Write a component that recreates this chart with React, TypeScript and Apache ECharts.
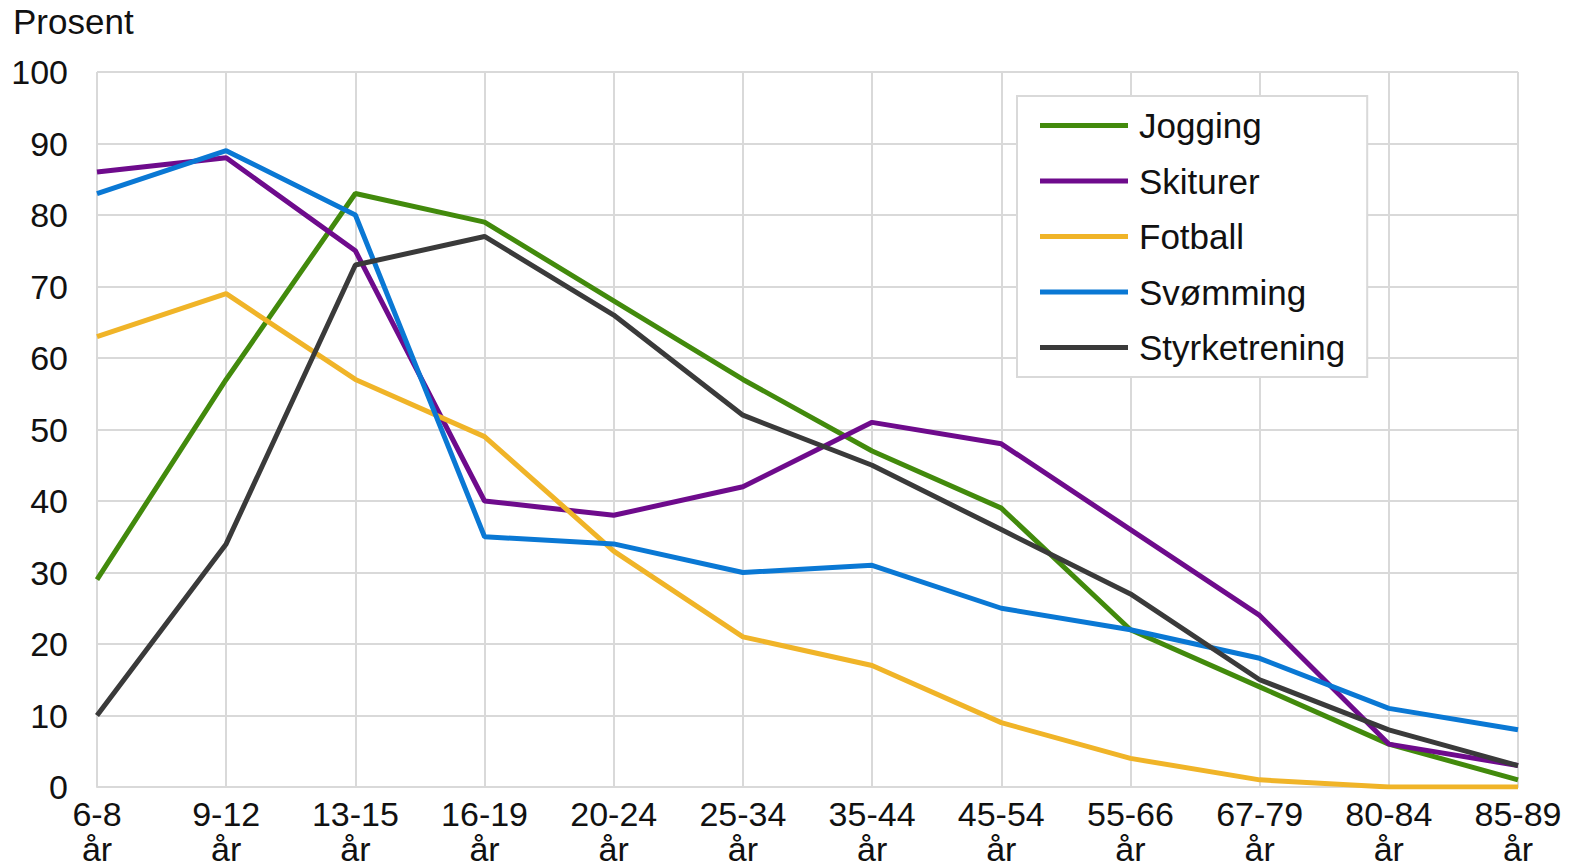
import React, { useEffect, useRef } from "react";
import * as echarts from "echarts";

const categories = ["6-8", "9-12", "13-15", "16-19", "20-24", "25-34", "35-44", "45-54", "55-66", "67-79", "80-84", "85-89"];
const jogging = [29, 57, 83, 79, 68, 57, 47, 39, 22, 14, 6, 1];
const skiturer = [86, 88, 75, 40, 38, 42, 51, 48, 36, 24, 6, 3];
const fotball = [63, 69, 57, 49, 33, 21, 17, 9, 4, 1, 0, 0];
const svomming = [83, 89, 80, 35, 34, 30, 31, 25, 22, 18, 11, 8];
const styrketrening = [10, 34, 73, 77, 66, 52, 45, 36, 27, 15, 8, 3];
const yTicks = { min: 0, max: 100, interval: 10 };

const seriesDefs = [
  { name: "Jogging", data: jogging, color: "#428a0c" },
  { name: "Skiturer", data: skiturer, color: "#6e0b8c" },
  { name: "Fotball", data: fotball, color: "#f0b428" },
  { name: "Svømming", data: svomming, color: "#0a78d4" },
  { name: "Styrketrening", data: styrketrening, color: "#3a3a3a" },
];

const FONT = "'Liberation Sans', Arial, sans-serif";

export default function App() {
  const ref = useRef<HTMLDivElement>(null);
  useEffect(() => {
    if (!ref.current) return;
    const chart = echarts.init(ref.current, undefined, { renderer: "svg" });
    chart.setOption({
      animation: false,
      textStyle: { fontFamily: FONT },
      title: {
        text: "Prosent",
        left: 13,
        top: 4,
        padding: 0,
        textStyle: { fontSize: 35, fontWeight: "normal", color: "#111", fontFamily: FONT, lineHeight: 34 },
      },
      grid: { left: 97, right: 59, top: 72, bottom: 80, containLabel: false, outerBoundsMode: "none" },
      legend: {
        orient: "vertical",
        left: 1017,
        top: 96,
        padding: [12, 22, 12, 23],
        itemGap: 20.5,
        itemWidth: 88,
        itemHeight: 5,
        icon: "rect",
        borderColor: "#d9d9d9",
        borderWidth: 2,
        backgroundColor: "#fff",
        textStyle: { fontSize: 35, color: "#111", fontFamily: FONT, lineHeight: 35, padding: [0, 0, 0, 6] },
        data: seriesDefs.map((s) => s.name),
      },
      xAxis: {
        type: "category",
        data: categories,
        boundaryGap: false,
        axisLine: { show: true, lineStyle: { color: "#d9d9d9", width: 2 } },
        axisTick: { show: false },
        splitLine: { show: true, lineStyle: { color: "#d9d9d9", width: 2 } },
        axisLabel: {
          interval: 0,
          margin: 9.5,
          fontSize: 34,
          lineHeight: 35,
          color: "#111",
          fontFamily: FONT,
          formatter: (v: string) => v + "\når",
        },
      },
      yAxis: {
        type: "value",
        min: yTicks.min,
        max: yTicks.max,
        interval: yTicks.interval,
        axisLine: { show: false },
        axisTick: { show: false },
        splitLine: { show: true, lineStyle: { color: "#d9d9d9", width: 2 } },
        axisLabel: { margin: 29, fontSize: 34, color: "#111", fontFamily: FONT, padding: [4, 0, 0, 0] },
      },
      series: seriesDefs.map((s) => ({
        name: s.name,
        type: "line",
        data: s.data,
        symbol: "none",
        color: s.color,
        lineStyle: { width: 5, color: s.color },
      })),
    });
    return () => chart.dispose();
  }, []);
  return <div ref={ref} style={{ width: 1577, height: 867, position: "absolute", left: 0, top: 0 }} />;
}
